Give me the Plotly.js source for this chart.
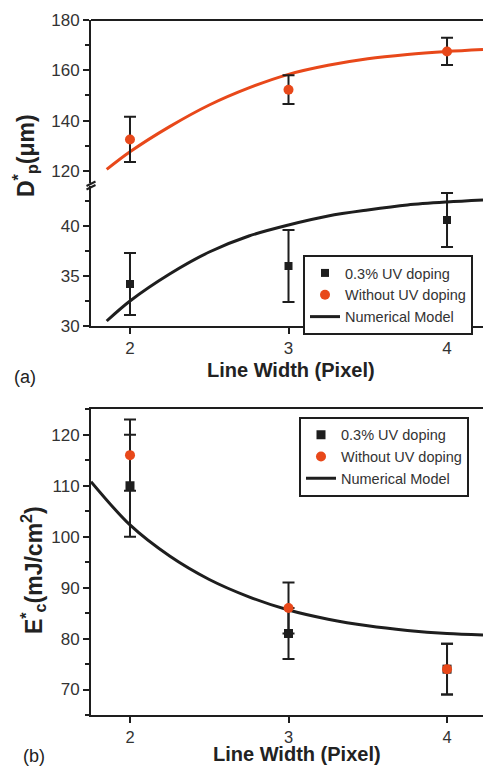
<!DOCTYPE html>
<html>
<head>
<meta charset="utf-8">
<script src="https://cdn.plot.ly/plotly-3.0.1.min.js"></script>
<style>html,body{margin:0;padding:0;background:#fff;overflow:hidden}</style>
</head>
<body>
<div id="chart"></div>
<script>
// ---- data ----
const lineWidth = [2, 3, 4];

// panel (a): D*p (um)
const dpDoped = [34.2, 36.0, 40.6];
const dpDopedErr = [3.1, 3.6, 2.7];
const dpUndoped = [132.5, 152.3, 167.5];
const dpUndopedErr = [9.0, 5.7, 5.4];

const modelAx = [1.853, 2.0, 2.25, 2.5, 2.75, 3.0, 3.25, 3.5, 3.75, 4.0, 4.227];
const modelDpDoped = [30.5, 32.5, 35.2, 37.4, 39.0, 40.1, 41.0, 41.6, 42.1, 42.4, 42.6];
const modelDpUndoped = [120.6, 127.6, 137.6, 146.2, 153.0, 158.4, 162.0, 164.6, 166.3, 167.5, 168.3];

// panel (b): E*c (mJ/cm2)
const ecDoped = [110, 81, 74];
const ecDopedErr = [10, 5, 5];
const ecUndoped = [116, 86, 74];
const ecUndopedErr = [7, 5, 5];

const modelBx = [1.754, 2.0, 2.25, 2.5, 2.75, 3.0, 3.25, 3.5, 3.75, 4.0, 4.227];
const modelEc = [110.8, 102.3, 96.2, 91.6, 88.2, 85.6, 83.8, 82.5, 81.6, 81.0, 80.7];

const seriesNames = ['0.3% UV doping', 'Without UV doping', 'Numerical Model'];

// ---- styles ----
const FONT = 'Liberation Sans, Arial, Helvetica, sans-serif';
const ORANGE = '#e8481a';
const BLACK = '#1e1e1e';
const W = 483, H = 770, ML = 91;
const PW = W - ML;
const px = v => (v - ML) / PW;
const py = v => 1 - v / H;

const errStyle = {type: 'data', visible: true, thickness: 2, width: 6, color: BLACK};
const curve = c => ({color: c, width: 3, shape: 'spline', smoothing: 0.9});

const traces = [
  // panel a
  {x: modelAx, y: modelDpUndoped, xaxis: 'x', yaxis: 'y2', mode: 'lines',
   line: curve(ORANGE), showlegend: false, hoverinfo: 'skip'},
  {x: modelAx, y: modelDpDoped, xaxis: 'x', yaxis: 'y', mode: 'lines', name: seriesNames[2],
   line: curve(BLACK), legend: 'legend', legendrank: 3},
  {x: lineWidth, y: dpDoped, xaxis: 'x', yaxis: 'y', mode: 'markers', name: seriesNames[0],
   marker: {symbol: 'square', size: 8, color: BLACK},
   error_y: Object.assign({array: dpDopedErr}, errStyle), legend: 'legend', legendrank: 1},
  {x: lineWidth, y: dpUndoped, xaxis: 'x', yaxis: 'y2', mode: 'markers', name: seriesNames[1],
   marker: {symbol: 'circle', size: 10, color: ORANGE},
   error_y: Object.assign({array: dpUndopedErr}, errStyle), legend: 'legend', legendrank: 2},
  // panel b
  {x: modelBx, y: modelEc, xaxis: 'x3', yaxis: 'y3', mode: 'lines', name: seriesNames[2],
   line: curve(BLACK), legend: 'legend2', legendrank: 3},
  {x: lineWidth, y: ecDoped, xaxis: 'x3', yaxis: 'y3', mode: 'markers', name: seriesNames[0],
   marker: {symbol: 'square', size: 9, color: BLACK},
   error_y: Object.assign({array: ecDopedErr}, errStyle), legend: 'legend2', legendrank: 1},
  {x: lineWidth, y: ecUndoped, xaxis: 'x3', yaxis: 'y3', mode: 'markers', name: seriesNames[1],
   marker: {symbol: 'circle', size: 10, color: ORANGE},
   error_y: Object.assign({array: ecUndopedErr}, errStyle), legend: 'legend2', legendrank: 2}
];

const tickFont = {family: FONT, size: 17, color: '#333'};
const xRange = [1.754, 4.227];
const baseX = {range: xRange, tickvals: lineWidth, ticktext: lineWidth.map(String),
  showline: true, linewidth: 2, linecolor: BLACK, ticks: 'outside', ticklen: 6, tickwidth: 2,
  tickcolor: BLACK, showgrid: false, zeroline: false, tickfont: tickFont, fixedrange: true};
const baseY = {showline: true, linewidth: 2, linecolor: BLACK, ticks: 'outside', ticklen: 6,
  tickwidth: 2, tickcolor: BLACK, showgrid: false, zeroline: false, tickfont: tickFont, fixedrange: true};

const legendBase = {xanchor: 'left', yanchor: 'top', bgcolor: '#fff', bordercolor: BLACK,
  borderwidth: 2, font: {family: FONT, size: 14.5, color: '#333'}, traceorder: 'normal'};

const layout = {
  width: W, height: H,
  margin: {l: ML, r: 0, t: 0, b: 0},
  paper_bgcolor: '#fff', plot_bgcolor: 'rgba(0,0,0,0)',
  font: {family: FONT},
  xaxis: Object.assign({}, baseX, {anchor: 'y', domain: [0, 1]}),
  yaxis: Object.assign({}, baseY, {anchor: 'x', domain: [py(326), py(186)], range: [30, 44],
    tickvals: [30, 35, 40], minor: {dtick: 2.5, tick0: 30, ticks: 'outside', ticklen: 4, tickwidth: 2, tickcolor: BLACK}}),
  yaxis2: Object.assign({}, baseY, {anchor: 'x', domain: [py(183), py(20)], range: [115.2, 180],
    tickvals: [120, 140, 160, 180], minor: {dtick: 10, tick0: 120, ticks: 'outside', ticklen: 4, tickwidth: 2, tickcolor: BLACK}}),
  xaxis3: Object.assign({}, baseX, {anchor: 'y3', domain: [0, 1], mirror: true,
    tickfont: {family: FONT, size: 16.5, color: '#333'}}),
  yaxis3: Object.assign({}, baseY, {anchor: 'x3', domain: [py(715), py(409.3)], range: [65, 125],
    tickvals: [70, 80, 90, 100, 110, 120], minor: {dtick: 5, tick0: 65, ticks: 'outside', ticklen: 4, tickwidth: 2, tickcolor: BLACK}}),
  legend: Object.assign({}, legendBase, {x: px(303), y: py(255)}),
  legend2: Object.assign({}, legendBase, {x: px(299), y: py(416.7)}),
  shapes: [
    {type: 'line', xref: 'paper', yref: 'paper', x0: 0, x1: 1.05, y0: py(20), y1: py(20),
     line: {color: BLACK, width: 2}},
    {type: 'line', xref: 'paper', yref: 'paper', x0: px(86.5), x1: px(95.5), y0: py(186), y1: py(181.5),
     line: {color: BLACK, width: 2}},
    {type: 'line', xref: 'paper', yref: 'paper', x0: px(86.5), x1: px(95.5), y0: py(189.5), y1: py(185),
     line: {color: BLACK, width: 2}}
  ],
  annotations: [
    {text: '<b>Line Width (Pixel)</b>', xref: 'paper', yref: 'paper', x: px(291), y: py(370),
     showarrow: false, xanchor: 'center', yanchor: 'middle', font: {family: FONT, size: 20, color: '#222'}},
    {text: '<b>Line Width (Pixel)</b>', xref: 'paper', yref: 'paper', x: px(297), y: py(754),
     showarrow: false, xanchor: 'center', yanchor: 'middle', font: {family: FONT, size: 20, color: '#222'}},
    {text: '(a)', xref: 'paper', yref: 'paper', x: px(24.5), y: py(377),
     showarrow: false, xanchor: 'center', yanchor: 'middle', font: {family: FONT, size: 18, color: '#222'}},
    {text: '(b)', xref: 'paper', yref: 'paper', x: px(34), y: py(756),
     showarrow: false, xanchor: 'center', yanchor: 'middle', font: {family: FONT, size: 18, color: '#222'}},
    {text: '<b>D<sup>*</sup><sub>p</sub>(μm)</b>', xref: 'paper', yref: 'paper', x: px(25), y: py(156),
     textangle: -90, showarrow: false, xanchor: 'center', yanchor: 'middle', font: {family: FONT, size: 23, color: '#222'}},
    {text: '<b>E<sup>*</sup><sub>c</sub>(mJ/cm<sup>2</sup>)</b>', xref: 'paper', yref: 'paper', x: px(33), y: py(570),
     textangle: -90, showarrow: false, xanchor: 'center', yanchor: 'middle', font: {family: FONT, size: 23, color: '#222'}}
  ]
};

Plotly.newPlot('chart', traces, layout, {displayModeBar: false, staticPlot: true});
</script>
</body>
</html>
